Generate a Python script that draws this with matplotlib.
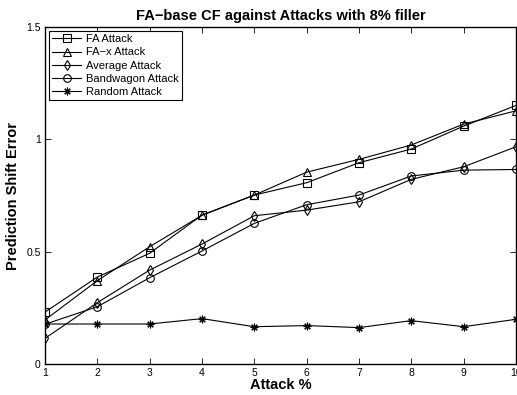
import matplotlib
matplotlib.use("Agg")
import matplotlib.pyplot as plt

plt.rcParams['font.family'] = ['Liberation Sans', 'DejaVu Sans']

attack_pct = [1, 2, 3, 4, 5, 6, 7, 8, 9, 10]
fa_attack = [0.231, 0.387, 0.493, 0.663, 0.752, 0.807, 0.896, 0.957, 1.059, 1.151]
fax_attack = [0.196, 0.371, 0.522, 0.662, 0.752, 0.854, 0.911, 0.975, 1.068, 1.127]
average_attack = [0.114, 0.273, 0.418, 0.534, 0.660, 0.685, 0.722, 0.822, 0.878, 0.967]
bandwagon_attack = [0.177, 0.255, 0.384, 0.503, 0.626, 0.709, 0.752, 0.837, 0.863, 0.866]
random_attack = [0.178, 0.178, 0.178, 0.202, 0.166, 0.171, 0.162, 0.193, 0.166, 0.199]

# asterisk marker: eight arms (plus and cross overlaid)
asterisk = (8, 2, 0)

series = [
    ("FA Attack", fa_attack, 's', 5.5),
    ("FA\u2212x Attack", fax_attack, '^', 5.5),
    ("Average Attack", average_attack, 'd', 5),
    ("Bandwagon Attack", bandwagon_attack, 'o', 5.5),
    ("Random Attack", random_attack, asterisk, 5.5),
]

fig = plt.figure(figsize=(5.17, 3.95), dpi=100)
ax = fig.add_axes([0.087, 0.0785, 0.911, 0.853])

for label, vals, mk, ms in series:
    ax.plot(attack_pct, vals, color='black', linewidth=0.8, marker=mk,
            markersize=ms, markerfacecolor='none',
            markeredgecolor='black', markeredgewidth=0.8, label=label)

ax.set_xlim(1, 10)
ax.set_ylim(0, 1.5)
ax.set_xticks(attack_pct)
ax.set_yticks([0, 0.5, 1, 1.5])
ax.set_yticklabels(['0', '0.5', '1', '1.5'])
ax.tick_params(direction='in', top=True, right=True, labelsize=7.5, length=4, width=0.6, pad=3)
for s in ax.spines.values():
    s.set_linewidth(1.0)

ax.set_title("FA\u2212base CF against Attacks with 8% filler", fontsize=10.5,
             fontweight='bold', pad=5)
ax.set_xlabel("Attack %", fontsize=10.5, fontweight='bold', labelpad=0)
ax.set_ylabel("Prediction Shift Error", fontsize=10.5, fontweight='bold', va='center')
ax.yaxis.set_label_coords(-0.068, 0.5)

leg = ax.legend(loc='upper left', fontsize=8, frameon=True, fancybox=False,
                edgecolor='black', framealpha=1, borderpad=0.3, labelspacing=0.28,
                handlelength=2.6, handletextpad=0.4, borderaxespad=0.35)
leg.get_frame().set_linewidth(0.8)

fig.savefig("out.png", dpi=100)
